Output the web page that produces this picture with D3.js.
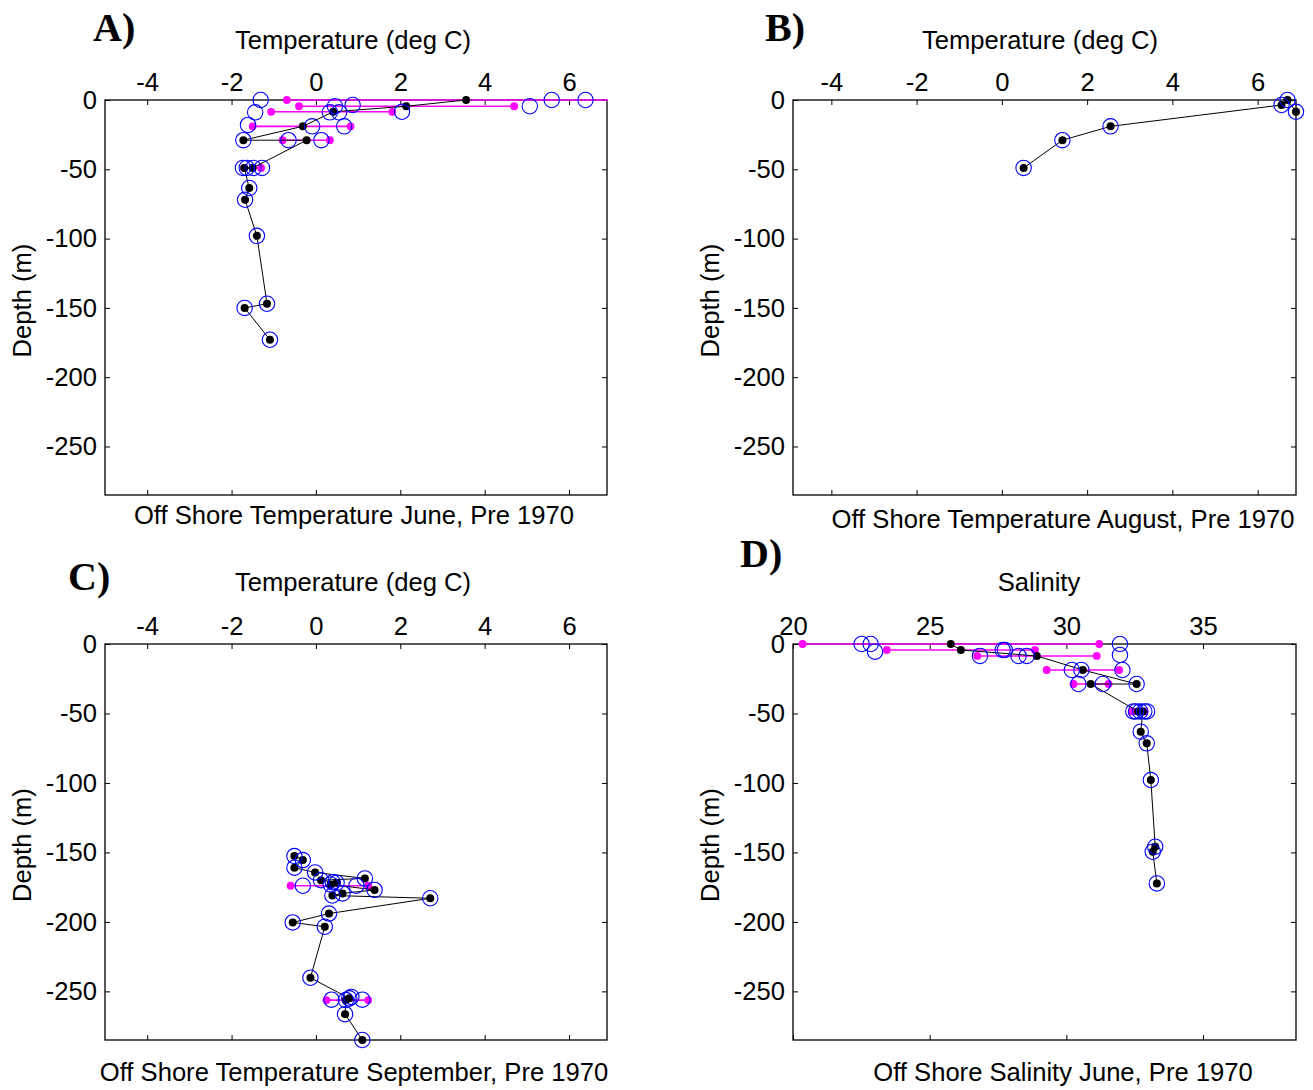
<!DOCTYPE html>
<html><head><meta charset="utf-8">
<script src="https://cdn.jsdelivr.net/npm/d3@7"></script>
<style>body{margin:0;background:#fff}</style>
</head><body>
<svg id="chart" width="1313" height="1090"></svg>
<script>
// ---------- DATA ----------
const tempTicks = [-4, -2, 0, 2, 4, 6];
const salTicks = [20, 25, 30, 35];
const depthTicks = [0, -50, -100, -150, -200, -250];

// Panel A: June temperature
const meanT_A = [3.56, 2.14, 0.41, -0.31, -1.72, -0.22, -1.50, -1.70, -1.58, -1.68, -1.40, -1.16, -1.69, -1.09];
const meanD_A = [0, -4.5, -8.5, -19, -29, -29, -49, -49, -63.5, -72, -98, -147, -150, -173];
const errLo_A = [-0.69, -0.40, -1.06, -1.50, -0.79, -1.70];
const errHi_A = [7.81, 4.70, 1.81, 0.82, 0.33, -1.30];
const errD_A  = [0, -4.5, -8.5, -19, -29, -49];
const obsT_A = [-1.31, 5.59, 6.39, 0.45, 0.87, 5.07, -1.44, 0.33, 0.55, 2.04, -1.61, -0.09, 0.67, -1.72, -0.65, 0.13, -1.73, -1.64, -1.48, -1.28, -1.58, -1.68, -1.40, -1.16, -1.69, -1.09];
const obsD_A = [0, 0, 0, -4.5, -3.6, -4.5, -8.9, -8.9, -8.9, -8.5, -18, -19, -19, -29, -29, -29, -49, -49, -49, -49, -63.5, -72, -98, -147, -150, -173];

// Panel B: August temperature
const meanT_B = [6.90, 6.70, 6.56, 2.55, 1.42, 0.51];
const meanD_B = [-8.5, 0, -3.6, -19, -29, -49];
const errLo_B = [];
const errHi_B = [];
const errD_B  = [];
const obsT_B = [6.90, 6.70, 6.56, 2.55, 1.42, 0.51];
const obsD_B = [-8.5, 0, -3.6, -19, -29, -49];

// Panel C: September temperature
const meanT_C = [-0.51, -0.31, -0.51, -0.02, 1.16, 0.12, 0.49, 0.35, 1.39, 0.63, 0.39, 2.71, 0.31, -0.55, 0.21, -0.13, 0.79, 0.71, 0.69, 1.10];
const meanD_C = [-152.6, -155.5, -161, -164.4, -168.7, -170, -171.8, -173, -177, -179.5, -181, -183, -194, -200.4, -203.5, -240.2, -255, -256.3, -266.4, -285];
const errLo_C = [-0.60, 0.25];
const errHi_C = [1.24, 1.24];
const errD_C  = [-174, -256.3];
const obsT_C = [-0.51, -0.31, -0.51, -0.02, 1.16, 0.12, 0.49, 0.40, 0.35, 1.39, 0.63, 0.39, 2.71, 0.31, -0.55, 0.21, -0.13, 0.79, 0.71, 0.69, 1.10, -0.31, 0.96, 0.37, 1.10, 0.84];
const obsD_C = [-152.6, -155.5, -161, -164.4, -168.7, -170, -171.8, -171.5, -173, -177, -179.5, -181, -183, -194, -200.4, -203.5, -240.2, -255, -256.3, -266.4, -285, -174, -174, -256, -256, -254];

// Panel D: June salinity
const meanS_D = [25.77, 26.14, 28.92, 30.60, 32.57, 30.89, 32.62, 32.80, 32.72, 32.94, 33.09, 33.25, 33.16, 33.31];
const meanD_D = [0, -4.3, -8.6, -18.7, -28.8, -28.8, -48.5, -48.5, -63.1, -71.5, -97.9, -145.9, -149.5, -172.3];
const errLo_D = [20.35, 23.43, 26.74, 29.28, 30.26, 32.40];
const errHi_D = [31.20, 28.85, 31.11, 31.93, 31.54, 32.86];
const errD_D  = [0, -4.3, -8.6, -18.7, -28.8, -48.5];
const obsS_D = [22.51, 22.84, 31.96, 23.0, 27.67, 27.75, 26.84, 28.25, 28.55, 31.96, 30.2, 30.55, 32.05, 30.44, 31.33, 32.57, 32.45, 32.55, 32.7, 32.85, 32.95, 32.72, 32.94, 33.09, 33.25, 33.16, 33.31];
const obsD_D = [0, 0, 0, -5.5, -4.3, -4.3, -8.6, -8.6, -8.6, -7.9, -18.7, -18.7, -18.7, -28.8, -28.8, -28.8, -48.5, -48.5, -48.5, -48.5, -48.5, -63.1, -71.5, -97.9, -145.9, -149.5, -172.3];

const depthDomain = [-285, 0];

// ---------- DRAWING ----------
const svg = d3.select("#chart");
const SANS = "'Liberation Sans', Arial, sans-serif";
const SERIF = "'Liberation Serif', 'Times New Roman', serif";
const FS = 25.6;

const panels = [
  { id: "A", left: 105, right: 607, top: 100, bottom: 495, xDomain: [-5, 6.9], xTicks: tempTicks,
    meanX: meanT_A, meanD: meanD_A, errLo: errLo_A, errHi: errHi_A, errD: errD_A, obsX: obsT_A, obsD: obsD_A,
    letter: "A)", lx: 93, ly: 41, topTitle: "Temperature (deg C)", ttx: 353, tty: 49,
    botTitle: "Off Shore Temperature June, Pre 1970", btx: 354, bty: 524, ylx: 31 },
  { id: "B", left: 793, right: 1296, top: 100, bottom: 495, xDomain: [-4.9, 6.9], xTicks: tempTicks,
    meanX: meanT_B, meanD: meanD_B, errLo: errLo_B, errHi: errHi_B, errD: errD_B, obsX: obsT_B, obsD: obsD_B,
    letter: "B)", lx: 765, ly: 41, topTitle: "Temperature (deg C)", ttx: 1040, tty: 49,
    botTitle: "Off Shore Temperature August, Pre 1970", btx: 1063, bty: 528, ylx: 719 },
  { id: "C", left: 105, right: 607, top: 644, bottom: 1040, xDomain: [-5, 6.9], xTicks: tempTicks,
    meanX: meanT_C, meanD: meanD_C, errLo: errLo_C, errHi: errHi_C, errD: errD_C, obsX: obsT_C, obsD: obsD_C,
    letter: "C)", lx: 68, ly: 590, topTitle: "Temperature (deg C)", ttx: 353, tty: 591,
    botTitle: "Off Shore Temperature September, Pre 1970", btx: 354, bty: 1081, ylx: 31 },
  { id: "D", left: 793, right: 1296, top: 644, bottom: 1040, xDomain: [20, 38.4], xTicks: salTicks,
    meanX: meanS_D, meanD: meanD_D, errLo: errLo_D, errHi: errHi_D, errD: errD_D, obsX: obsS_D, obsD: obsD_D,
    letter: "D)", lx: 740, ly: 567, topTitle: "Salinity", ttx: 1039, tty: 591,
    botTitle: "Off Shore Salinity June, Pre 1970", btx: 1063, bty: 1081, ylx: 719 }
];

const defs = svg.append("defs");

function styleAxis(sel) {
  sel.select(".domain").remove();
  sel.selectAll(".tick line").attr("stroke", "#000").attr("stroke-width", 1);
  sel.selectAll(".tick text").attr("fill", "#000").attr("font-family", SANS).attr("font-size", FS);
}

panels.forEach(p => {
  const g = svg.append("g");
  const x = d3.scaleLinear().domain(p.xDomain).range([p.left, p.right]);
  const y = d3.scaleLinear().domain(depthDomain).range([p.bottom, p.top]);
  const fmt = d => String(d);

  // axes with inward ticks
  g.append("g").attr("transform", `translate(0,${p.top})`)
    .call(d3.axisTop(x).tickValues(p.xTicks).tickFormat(fmt).tickSizeInner(-5).tickSizeOuter(0).tickPadding(9))
    .call(styleAxis);
  g.append("g").attr("transform", `translate(0,${p.bottom})`)
    .call(d3.axisBottom(x).tickValues(p.xTicks).tickFormat("").tickSizeInner(-5).tickSizeOuter(0))
    .call(styleAxis);
  g.append("g").attr("transform", `translate(${p.left},0)`)
    .call(d3.axisLeft(y).tickValues(depthTicks).tickFormat(fmt).tickSizeInner(-5).tickSizeOuter(0).tickPadding(8))
    .call(styleAxis);
  g.append("g").attr("transform", `translate(${p.right},0)`)
    .call(d3.axisRight(y).tickValues(depthTicks).tickFormat("").tickSizeInner(-5).tickSizeOuter(0))
    .call(styleAxis);

  g.append("rect").attr("x", p.left).attr("y", p.top)
    .attr("width", p.right - p.left).attr("height", p.bottom - p.top)
    .attr("fill", "none").attr("stroke", "#000").attr("stroke-width", 1.3);

  // clip for lines
  defs.append("clipPath").attr("id", "clip" + p.id)
    .append("rect").attr("x", p.left - 1).attr("y", p.top - 1)
    .attr("width", p.right - p.left + 2).attr("height", p.bottom - p.top + 2);

  const inDom = (vx, vd) => {
    const px = x(vx), py = y(vd);
    return px >= p.left - 1 && px <= p.right + 1 && py >= p.top - 1 && py <= p.bottom + 1;
  };

  // magenta error lines
  const err = p.errD.map((d, i) => ({ d, lo: p.errLo[i], hi: p.errHi[i] }));
  const eg = g.append("g").attr("clip-path", `url(#clip${p.id})`);
  eg.selectAll("line").data(err).join("line")
    .attr("x1", e => x(e.lo)).attr("x2", e => x(e.hi))
    .attr("y1", e => y(e.d)).attr("y2", e => y(e.d))
    .attr("stroke", "#ff00ff").attr("stroke-width", 1.6);
  const edots = [];
  err.forEach(e => { edots.push({ v: e.lo, d: e.d }); edots.push({ v: e.hi, d: e.d }); });
  g.append("g").selectAll("circle").data(edots.filter(e => inDom(e.v, e.d))).join("circle")
    .attr("cx", e => x(e.v)).attr("cy", e => y(e.d)).attr("r", 3.9).attr("fill", "#ff00ff");

  // black mean line
  const means = p.meanD.map((d, i) => ({ v: p.meanX[i], d }));
  g.append("path").datum(means).attr("clip-path", `url(#clip${p.id})`)
    .attr("d", d3.line().x(m => x(m.v)).y(m => y(m.d)))
    .attr("fill", "none").attr("stroke", "#000").attr("stroke-width", 1);
  g.append("g").selectAll("circle").data(means.filter(m => inDom(m.v, m.d))).join("circle")
    .attr("cx", m => x(m.v)).attr("cy", m => y(m.d)).attr("r", 4).attr("fill", "#000");

  // blue observation circles
  const obs = p.obsD.map((d, i) => ({ v: p.obsX[i], d }));
  g.append("g").selectAll("circle").data(obs.filter(o => inDom(o.v, o.d))).join("circle")
    .attr("cx", o => x(o.v)).attr("cy", o => y(o.d)).attr("r", 7.7)
    .attr("fill", "none").attr("stroke", "#0000ff").attr("stroke-width", 1.1);

  // texts
  g.append("text").attr("x", p.lx).attr("y", p.ly).text(p.letter)
    .attr("font-family", SERIF).attr("font-weight", "bold").attr("font-size", 40).attr("fill", "#000");
  g.append("text").attr("x", p.ttx).attr("y", p.tty).text(p.topTitle)
    .attr("text-anchor", "middle").attr("font-family", SANS).attr("font-size", FS).attr("fill", "#000");
  g.append("text").attr("x", p.btx).attr("y", p.bty).text(p.botTitle)
    .attr("text-anchor", "middle").attr("font-family", SANS).attr("font-size", FS).attr("fill", "#000");
  g.append("text").attr("transform", `translate(${p.ylx},${(p.top + p.bottom) / 2 + 3}) rotate(-90)`)
    .text("Depth (m)").attr("text-anchor", "middle")
    .attr("font-family", SANS).attr("font-size", FS).attr("fill", "#000");
});
</script>
</body></html>
